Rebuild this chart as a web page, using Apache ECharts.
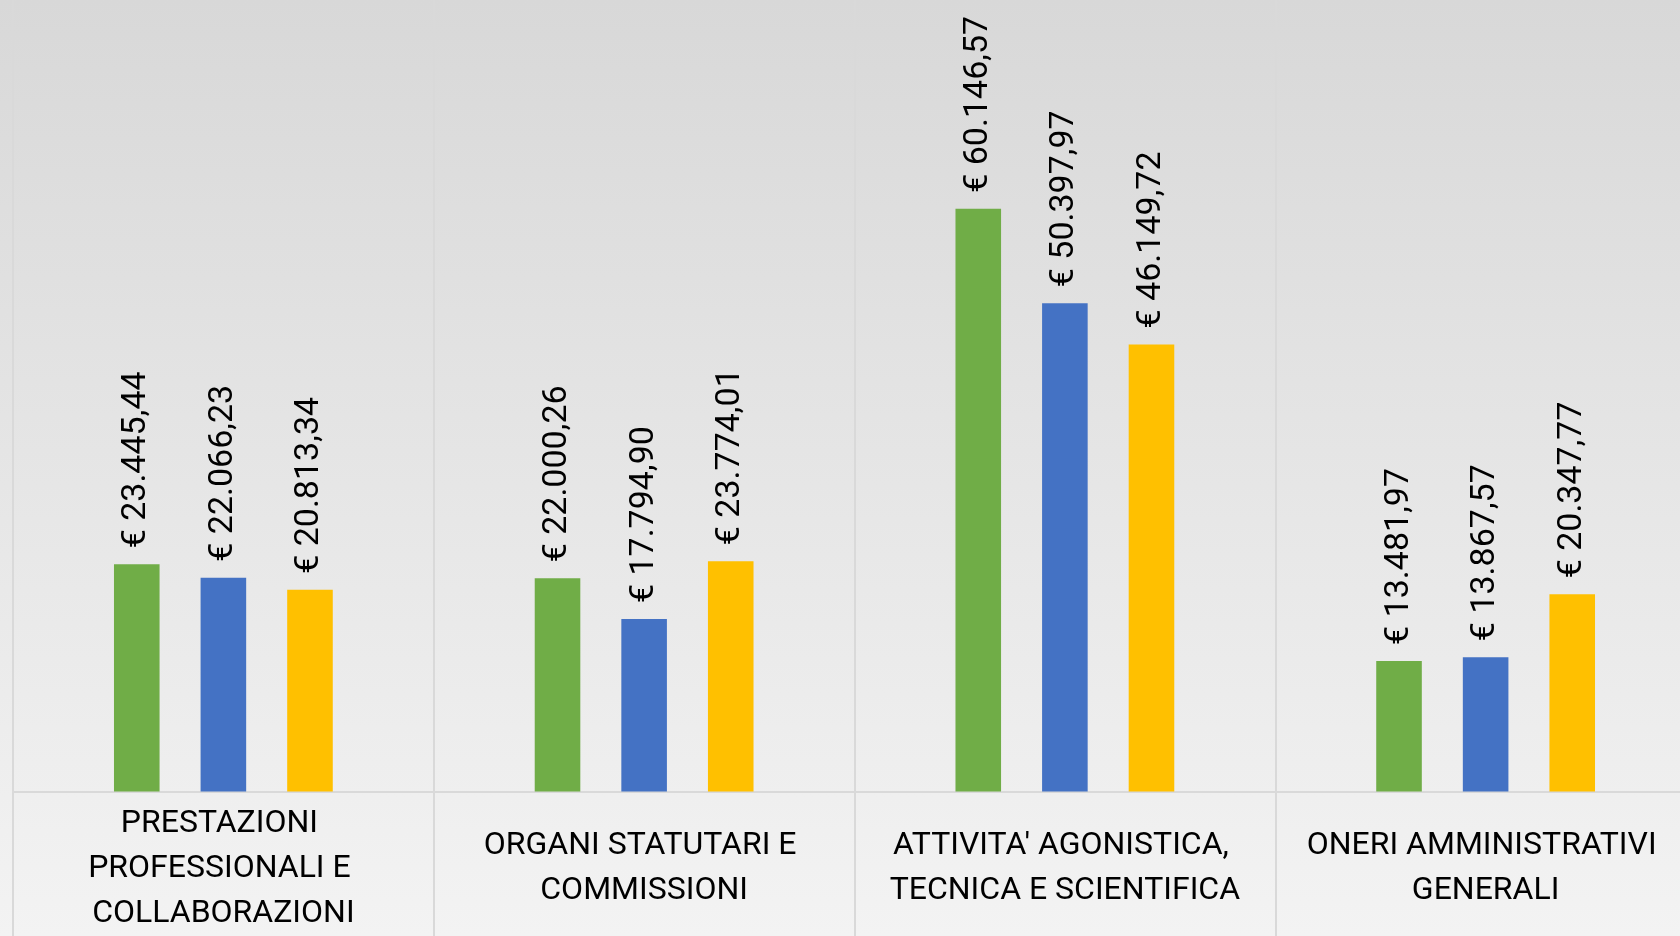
<!DOCTYPE html>
<html>
<head>
<meta charset="utf-8">
<script src="https://cdn.jsdelivr.net/npm/echarts@6/dist/echarts.min.js"></script>
<style>
    html, body { margin: 0; padding: 0; overflow: hidden; }
    /* 元の図は右端が切れているので、コンテナを画面より少し広く取る */
    #chartContainer { width: 1700px; height: 936px; }
</style>
</head>
<body>
<div id="chartContainer"></div>
<script>
// カテゴリとシリーズの値
const categories = [
    'PRESTAZIONI PROFESSIONALI E COLLABORAZIONI',
    'ORGANI STATUTARI E COMMISSIONI',
    "ATTIVITA' AGONISTICA, TECNICA E SCIENTIFICA",
    'ONERI AMMINISTRATIVI GENERALI'
];
const seriesNames = ['Serie 1', 'Serie 2', 'Serie 3'];
const greenValues = [23445.44, 22000.26, 60146.57, 13481.97];
const blueValues = [22066.23, 17794.90, 50397.97, 13867.57];
const yellowValues = [20813.34, 23774.01, 46149.72, 20347.77];

// ユーロ表記 (イタリア式: 千区切りは点、小数はカンマ)
function formatEuro(v) {
    const parts = v.toFixed(2).split('.');
    const intPart = parts[0].replace(/\B(?=(\d{3})+(?!\d))/g, '.');
    return '€ ' + intPart + ',' + parts[1];
}

const chart = echarts.init(document.getElementById('chartContainer'));

const labelStyle = {
    show: true,
    position: 'top',
    rotate: 90,
    align: 'left',
    verticalAlign: 'middle',
    distance: 16,
    fontFamily: 'Roboto',
    fontSize: 34,
    color: '#000',
    formatter: p => formatEuro(p.value)
};

function makeSeries(name, data, color) {
    return {
        name: name,
        type: 'bar',
        data: data,
        barGap: '90%',
        barCategoryGap: '48%',
        itemStyle: { color: color },
        label: labelStyle
    };
}

const option = {
    animation: false,
    backgroundColor: {
        type: 'linear',
        x: 0, y: 0, x2: 0, y2: 1,
        colorStops: [
            { offset: 0, color: '#d8d8d8' },
            { offset: 1, color: '#f3f3f3' }
        ]
    },
    grid: {
        left: 13,
        right: 4,
        top: 0,
        bottom: 144
    },
    xAxis: {
        type: 'category',
        data: categories,
        axisLine: { lineStyle: { color: '#d9d9d9', width: 2 } },
        axisTick: { show: true, length: 150, lineStyle: { color: '#d9d9d9', width: 2 } },
        splitLine: { show: true, lineStyle: { color: '#d9d9d9', width: 2 } },
        axisLabel: {
            interval: 0,
            margin: 77,
            verticalAlign: 'middle',
            width: 400,
            overflow: 'break',
            lineHeight: 45,
            fontFamily: 'Roboto',
            fontSize: 32,
            color: '#000'
        }
    },
    yAxis: {
        type: 'value',
        min: 0,
        max: 81700,
        show: false,
        splitLine: { show: false }
    },
    series: [
        makeSeries(seriesNames[0], greenValues, '#70ad47'),
        makeSeries(seriesNames[1], blueValues, '#4472c4'),
        makeSeries(seriesNames[2], yellowValues, '#ffc000')
    ]
};

chart.setOption(option);
</script>
</body>
</html>
